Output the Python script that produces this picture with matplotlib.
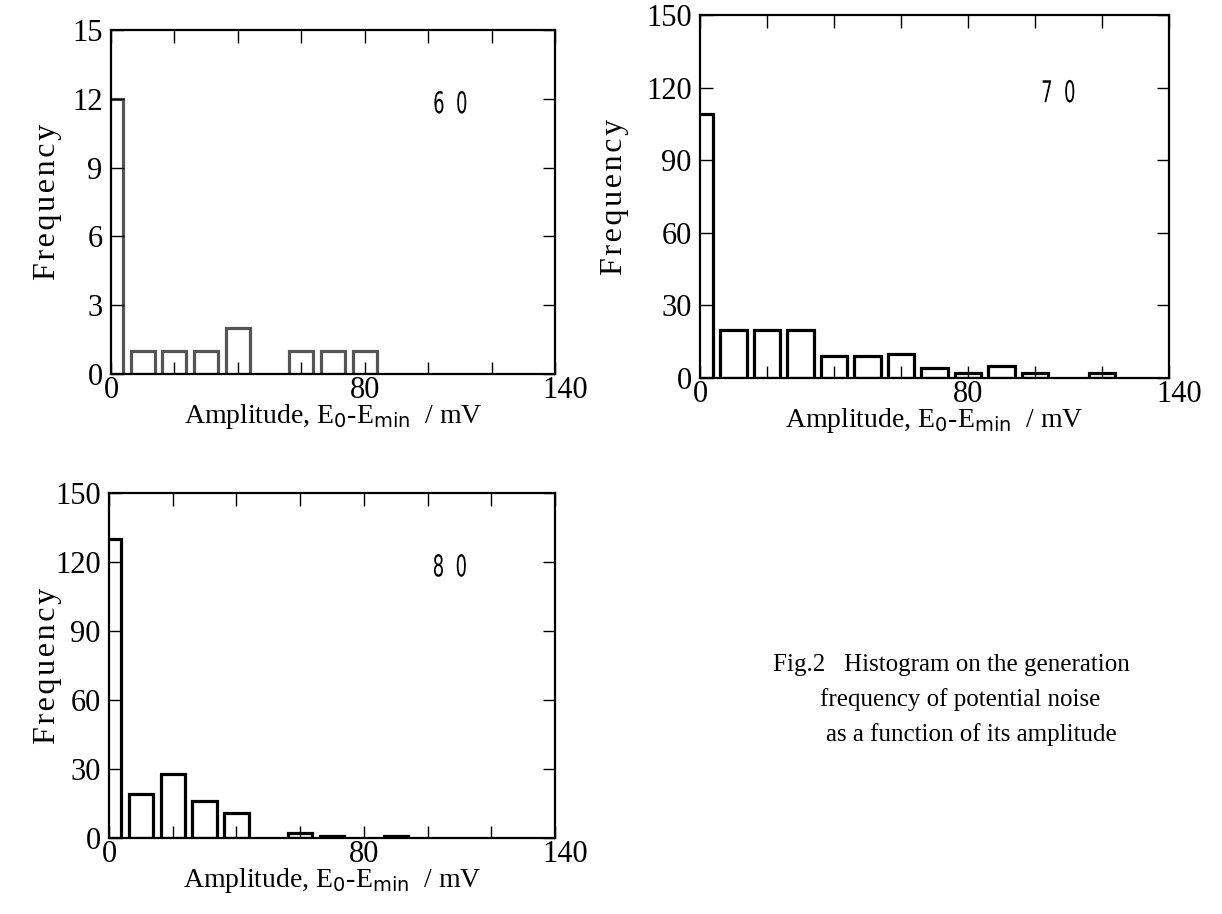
import numpy as np
import matplotlib.pyplot as plt
from matplotlib.textpath import TextPath
from matplotlib.patches import PathPatch
from matplotlib.font_manager import FontProperties
from matplotlib.transforms import Affine2D, ScaledTranslation

plt.rcParams['font.family'] = ['Liberation Serif', 'DejaVu Serif']
plt.rcParams['mathtext.fontset'] = 'custom'
plt.rcParams['mathtext.rm'] = 'Liberation Serif'
plt.rcParams['mathtext.sf'] = 'DejaVu Sans'

# bin centres (mV) and counts for the three runs
centers_60 = [0, 10, 20, 30, 40, 50, 60, 70, 80]
counts_60 = [12, 1, 1, 1, 2, 0, 1, 1, 1]

centers_70 = [0, 10, 20, 30, 40, 50, 60, 70, 80, 90, 100, 110, 120]
counts_70 = [109, 20, 20, 20, 9, 9, 10, 4, 2, 5, 2, 0, 2]

centers_80 = [0, 10, 20, 30, 40, 50, 60, 70, 80, 90]
counts_80 = [130, 19, 28, 16, 11, 0, 2, 1, 0, 1]

xticks = [0, 20, 40, 60, 80, 100, 120, 140]
xticklabels = ['0', '', '', '', '80', '', '', '140']

caption = ['Fig.2   Histogram on the generation',
           'frequency of potential noise',
           'as a function of its amplitude']

W, H = 1222, 914
fig = plt.figure(figsize=(W / 100, H / 100), dpi=100)


def spaced(s):
    return '\u200a'.join(s)


xlabel = 'Amplitude, E$_\\mathsf{0}$-E$_\\mathsf{min}$  / mV'


def narrow_text(ax, x, y, s, size=30, squeeze=0.6):
    # condensed look for the run labels: squeeze a text path horizontally
    px, py = ax.transData.transform((x, y))
    tp = TextPath((0, 0), s, size=size, prop=FontProperties(family='DejaVu Sans'))
    bb = tp.get_extents()
    tr = (Affine2D().translate(-bb.x0 - bb.width / 2, -bb.y0 - bb.height / 2)
          .scale(squeeze, 1.0).translate(px, py))
    fig.add_artist(PathPatch(tp, transform=tr, facecolor='black', lw=0))


def panel(rect, centers, counts, ymax, ystep, tag, color, width, ylab_x):
    ax = fig.add_axes(rect)
    c = np.array(centers, dtype=float)
    v = np.array(counts, dtype=float)
    m = v > 0
    ax.bar(c[m], v[m], width=width, fill=False, edgecolor=color,
           linewidth=2.3, align='center')
    ax.set_xlim(0, 140)
    ax.set_ylim(0, ymax)
    ax.set_xticks(xticks)
    ax.set_xticklabels(xticklabels)
    ax.set_yticks(np.arange(0, ymax + 1, ystep))
    ax.tick_params(direction='in', top=True, right=True, length=9, width=1,
                   labelsize=22)
    ax.tick_params(axis='y', pad=6)
    ax.tick_params(axis='x', pad=1.5)
    # last x label sits a little right of its tick
    last = ax.get_xticklabels()[-1]
    last.set_transform(last.get_transform()
                       + ScaledTranslation(0.10, 0, fig.dpi_scale_trans))
    for s in ax.spines.values():
        s.set_linewidth(1.6)
    ax.set_ylabel(spaced('Frequency'), fontsize=23)
    ax.yaxis.set_label_coords(ylab_x, 0.5)
    ax.set_xlabel(xlabel, fontsize=20, labelpad=-2)
    narrow_text(ax, 107, ymax * 0.79, tag, size=30)
    return ax


panel([111 / W, 1 - 374 / H, 444 / W, 344 / H], centers_60, counts_60, 15, 3,
      '6  0', '#555555', 7.6, -0.111)
panel([700 / W, 1 - 378 / H, 469 / W, 363 / H], centers_70, counts_70, 150, 30,
      '7  0', 'black', 7.8, -0.151)
panel([109 / W, 1 - 838 / H, 446 / W, 345 / H], centers_80, counts_80, 150, 30,
      '8  0', 'black', 7.6, -0.106)

fig.text(773 / W, 1 - 665 / H, caption[0], fontsize=18, va='center')
fig.text(820 / W, 1 - 700 / H, caption[1], fontsize=18, va='center')
fig.text(826 / W, 1 - 735 / H, caption[2], fontsize=18, va='center')

fig.savefig('out.png', dpi=100)
